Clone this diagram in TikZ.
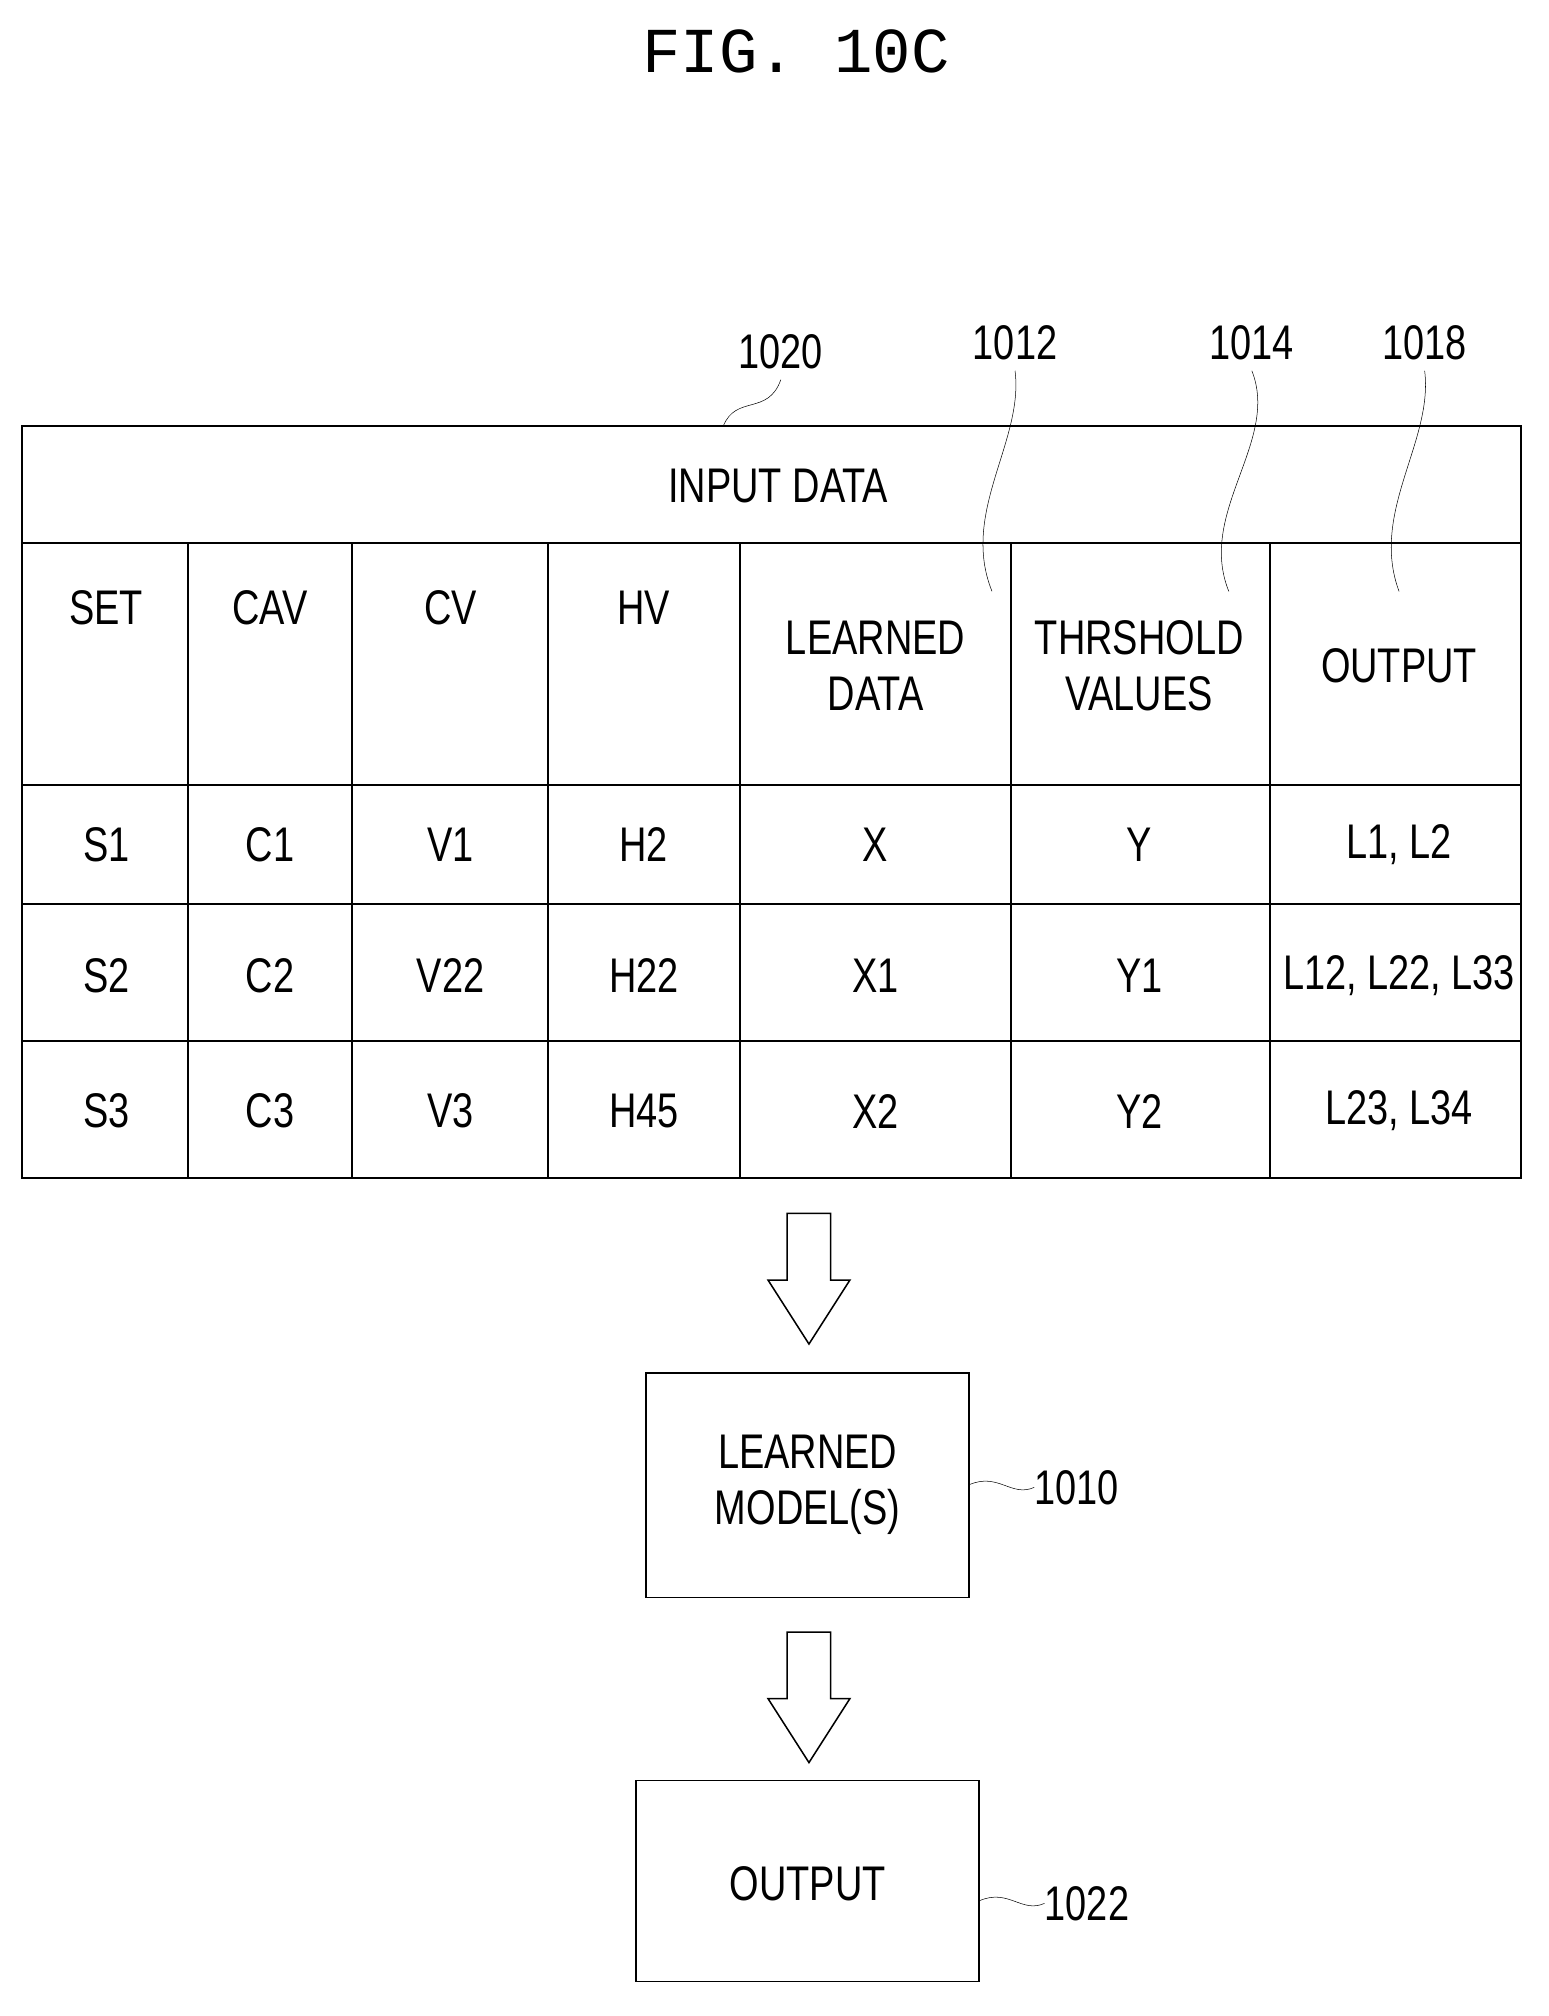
\documentclass[tikz,border=0pt]{standalone}
\usepackage{fontspec}
\setmainfont{Liberation Sans}
\setmonofont{Liberation Mono}
\newfontfamily\condfont[FakeStretch=0.78]{Liberation Sans}
\begin{document}
\begin{tikzpicture}[x=1pt,y=-1pt,
    txt/.style={font=\condfont\fontsize{38}{44}\selectfont, align=center, inner sep=0pt},
    refno/.style={font=\condfont\fontsize{38}{44}\selectfont, inner sep=0pt},
    leader/.style={thin},
    hollow/.style={draw, line width=1.2pt, fill=white},
    box/.style={draw, line width=1.5pt}]

    \useasboundingbox (0,0) rectangle (1210,1575);
    \node[font=\ttfamily\fontsize{50}{60}\selectfont] (title) at (622,40) {FIG. 10C};

    % table
    \draw[line width=1.5pt] (17,333) rectangle (1188,920);
    \foreach \y in {424,613,706,813}
    \draw[line width=1.5pt] (17,\y) -- (1188,\y);
    \foreach \x in {147,275,428,578,790,992}
    \draw[line width=1.5pt] (\x,424) -- (\x,920);
    \node[txt] (indata) at (608,380) {INPUT DATA};

    \foreach \x/\t in {83/SET, 211/CAV, 352/CV, 503/HV}
    \node[txt] at (\x,475) {\t};
    \node[txt] (learned) at (684,520) {LEARNED\\DATA};
    \node[txt] (thresh) at (890,520) {THRSHOLD\\VALUES};
    \node[txt] (outcol) at (1093,520) {OUTPUT};

    \foreach \y/\a/\b/\c/\d/\e/\f/\g in {660/S1/C1/V1/H2/X/Y/{L1, L2},
                                          762/S2/C2/V22/H22/X1/Y1/{L12, L22, L33},
                                          868/S3/C3/V3/H45/X2/Y2/{L23, L34}}{
    \node[txt] at (83,\y) {\a};
    \node[txt] at (211,\y) {\b};
    \node[txt] at (352,\y) {\c};
    \node[txt] at (503,\y) {\d};
    \node[txt] at (684,\y) {\e};
    \node[txt] at (890,\y) {\f};
    \node[txt] at (1093,\y) {\g};
    }

    % reference numerals
    \node[refno] (r1020) at (610,275) {1020};
    \node[refno] (r1012) at (793,268) {1012};
    \node[refno] (r1014) at (978,268) {1014};
    \node[refno] (r1018) at (1113,268) {1018};
    \draw[leader] ([yshift=-8pt]r1020.south) .. controls (600,325) and (575,308) .. (565,333);
    \draw[leader] ([yshift=-8pt]r1012.south) .. controls (800,345) and (750,400) .. (775,462);
    \draw[leader] ([yshift=-8pt]r1014.south) .. controls (1000,345) and (935,400) .. (960,462);
    \draw[leader] ([yshift=-8pt]r1018.south) .. controls (1120,345) and (1070,400) .. (1093,462);

    % hollow arrows
    \draw[hollow] (615,948) -- (649,948) -- (649,1000) -- (664,1000) -- (632,1050)
                  -- (600,1000) -- (615,1000) -- cycle;
    \draw[hollow] (615,1275) -- (649,1275) -- (649,1327) -- (664,1327) -- (632,1377)
                  -- (600,1327) -- (615,1327) -- cycle;

    % boxes
    \draw[box] (505,1073) rectangle (757,1248);
    \node[txt] (model) at (631,1160) {LEARNED\\MODEL(S)};
    \draw[box] (497,1391) rectangle (765,1548);
    \node[txt] (output) at (631,1472) {OUTPUT};

    \node[refno, anchor=west] (r1010) at (808,1162) {1010};
    \node[refno, anchor=west] (r1022) at (816,1487) {1022};
    \draw[leader] (757,1160) .. controls (780,1150) and (790,1170) .. (r1010.west);
    \draw[leader] (765,1485) .. controls (788,1475) and (798,1495) .. (r1022.west);
\end{tikzpicture}
\end{document}
